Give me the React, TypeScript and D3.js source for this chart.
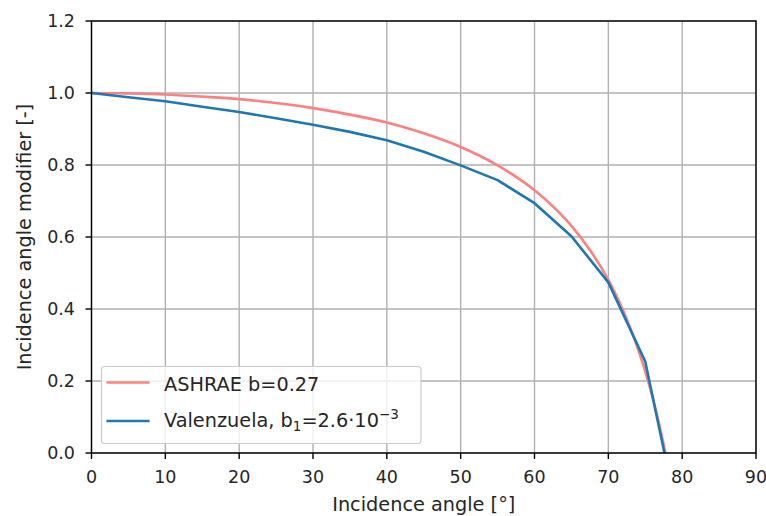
import React from "react";
import * as d3 from "d3";

const ashraeAngle = [0, 5, 10, 15, 20, 25, 30, 35, 40, 45, 50, 55, 57.5, 60, 62.5, 65, 67.5, 70, 71, 72, 73, 74, 75, 76, 77, 77.73];
const ashraeIam = [1.0, 0.999, 0.996, 0.990, 0.983, 0.972, 0.958, 0.940, 0.918, 0.888, 0.850, 0.799, 0.767, 0.730, 0.685, 0.631, 0.564, 0.481, 0.441, 0.396, 0.346, 0.290, 0.227, 0.154, 0.070, 0.0];

const valAngle = [0, 5, 10, 15, 20, 25, 30, 35, 40, 45, 50, 55, 60, 65, 70, 75, 77.6];
const valIam = [1.0, 0.988, 0.977, 0.962, 0.947, 0.930, 0.912, 0.892, 0.869, 0.837, 0.799, 0.758, 0.694, 0.602, 0.474, 0.254, 0.0];

const xTicks = [0, 10, 20, 30, 40, 50, 60, 70, 80, 90];
const yTicks = [0.0, 0.2, 0.4, 0.6, 0.8, 1.0, 1.2];

const W = 766, H = 516;
const M = { left: 91.5, right: 756, top: 21, bottom: 453 };
const FONT = "DejaVu Sans";
const TICK_FS = 17.5;
const LABEL_FS = 19.3;

export default function App() {
  const x = d3.scaleLinear().domain([0, 90]).range([M.left, M.right]);
  const y = d3.scaleLinear().domain([0, 1.2]).range([M.bottom, M.top]);
  const line = d3.line<[number, number]>().x(d => x(d[0])).y(d => y(d[1]));
  const smooth = d3.line<[number, number]>().x(d => x(d[0])).y(d => y(d[1])).curve(d3.curveMonotoneX);
  const ashrae = ashraeAngle.map((a, i) => [a, ashraeIam[i]] as [number, number]);
  const val = valAngle.map((a, i) => [a, valIam[i]] as [number, number]);
  const red = "#ff8080";
  const blue = "#1f77b4";
  const lx = 101.5, ly = 366.5;
  const txt = "#262626";
  return (
    <svg width={W} height={H} style={{ position: "absolute", left: 0, top: 0, background: "#fff" }} fontFamily={FONT}>
      <rect x={0} y={0} width={W} height={H} fill="#fff" />
      <defs>
        <clipPath id="clip"><rect x={M.left} y={M.top} width={M.right - M.left} height={M.bottom - M.top} /></clipPath>
      </defs>
      {xTicks.map(t => (
        <line key={"gx" + t} x1={x(t)} x2={x(t)} y1={M.top} y2={M.bottom} stroke="#b0b0b0" strokeWidth={1.4} />
      ))}
      {yTicks.map(t => (
        <line key={"gy" + t} x1={M.left} x2={M.right} y1={y(t)} y2={y(t)} stroke="#b0b0b0" strokeWidth={1.4} />
      ))}
      <g clipPath="url(#clip)">
        <path d={smooth(ashrae) || ""} fill="none" stroke={red} strokeWidth={2.6} strokeLinejoin="round" />
        <path d={line(val) || ""} fill="none" stroke={blue} strokeWidth={2.6} strokeLinejoin="round" />
      </g>
      <rect x={M.left} y={M.top} width={M.right - M.left} height={M.bottom - M.top} fill="none" stroke="#000" strokeWidth={1.4} />
      {xTicks.map(t => (
        <g key={"tx" + t}>
          <line x1={x(t)} x2={x(t)} y1={M.bottom} y2={M.bottom + 6} stroke="#000" strokeWidth={1.4} />
          <text x={x(t)} y={483} textAnchor="middle" fontSize={TICK_FS} fill={txt}>{t}</text>
        </g>
      ))}
      {yTicks.map(t => (
        <g key={"ty" + t}>
          <line x1={M.left - 6} x2={M.left} y1={y(t)} y2={y(t)} stroke="#000" strokeWidth={1.4} />
          <text x={75} y={y(t) + 6.4} textAnchor="end" fontSize={TICK_FS} fill={txt}>{t.toFixed(1)}</text>
        </g>
      ))}
      <text x={(M.left + M.right) / 2} y={511} textAnchor="middle" fontSize={LABEL_FS} fill={txt}>Incidence angle [°]</text>
      <text transform={`translate(31,${(M.top + M.bottom) / 2}) rotate(-90)`} textAnchor="middle" fontSize={LABEL_FS} fill={txt}>Incidence angle modifier [-]</text>
      <g>
        <rect x={lx} y={ly} width={319.5} height={77} rx={3} fill="#fff" fillOpacity={0.8} stroke="#cccccc" strokeWidth={1.2} />
        <line x1={lx + 5} x2={lx + 48} y1={382.5} y2={382.5} stroke={red} strokeWidth={2.6} />
        <text x={164} y={391} fontSize={LABEL_FS} fill={txt}>ASHRAE b=0.27</text>
        <line x1={lx + 5} x2={lx + 48} y1={421} y2={421} stroke={blue} strokeWidth={2.6} />
        <text x={164} y={427} fontSize={LABEL_FS} fill={txt}>
          Valenzuela, b<tspan fontSize={13.5} dy={3.5}>1</tspan><tspan dy={-3.5}>=2.6·10</tspan><tspan fontSize={13.5} dy={-8}>−3</tspan>
        </text>
      </g>
    </svg>
  );
}
